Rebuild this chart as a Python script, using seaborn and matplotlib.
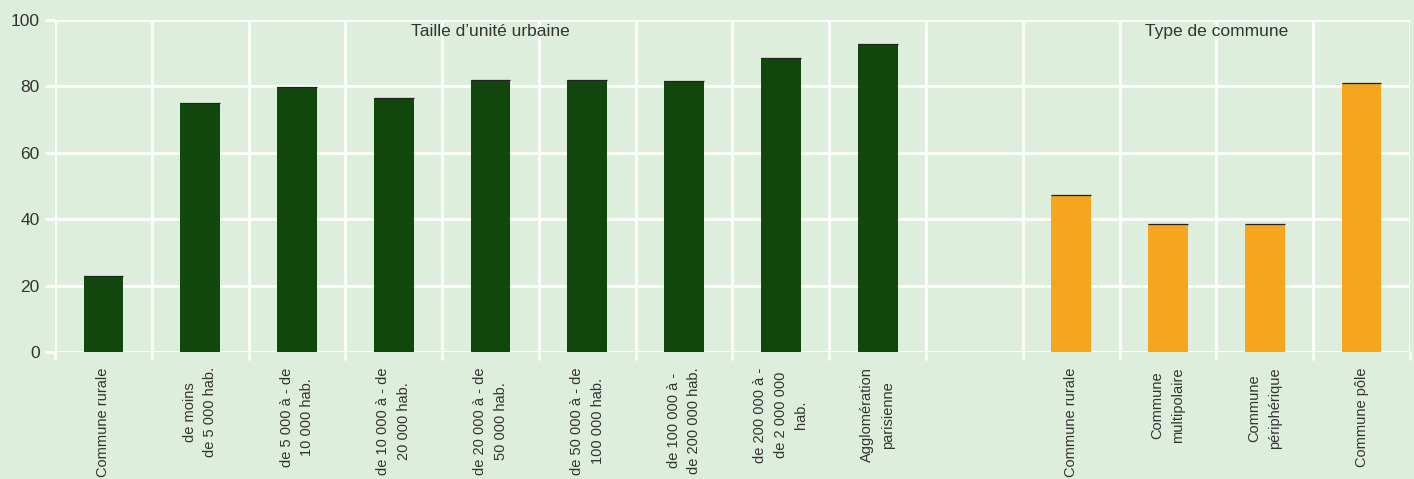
import pandas as pd
import seaborn as sns
import matplotlib.pyplot as plt
import numpy as np

# Données (en %)
taille_labels = ["Commune rurale", "de moins\nde 5 000 hab.", "de 5 000 à - de\n10 000 hab.",
                 "de 10 000 à - de\n20 000 hab.", "de 20 000 à - de\n50 000 hab.",
                 "de 50 000 à - de\n100 000 hab.", "de 100 000 à -\nde 200 000 hab.",
                 "de 200 000 à -\nde 2 000 000\nhab.", "Agglomération\nparisienne"]
taille_values = [22.9, 75.0, 79.8, 76.5, 81.9, 81.9, 81.6, 88.6, 92.8]

type_labels = ["Commune rurale", "Commune\nmultipolaire", "Commune\npériphérique", "Commune pôle"]
type_values = [47.3, 38.5, 38.5, 81.0]

group_titles = ["Taille d\u2019unité urbaine", "Type de commune"]

bg = "#deeedd"
green = "#11470d"
orange = "#f6a51e"
txt = "#333333"

keys_taille = ["t%d" % i for i in range(len(taille_values))]
keys_type = ["c%d" % i for i in range(len(type_values))]
order = keys_taille + ["gap"] + keys_type
tick_labels = taille_labels + [""] + type_labels

df = pd.DataFrame({
    "cle": keys_taille + keys_type,
    "valeur": taille_values + type_values,
    "groupe": [group_titles[0]] * len(taille_values) + [group_titles[1]] * len(type_values),
})

sns.set_style("white")
plt.rcParams["font.family"] = ["Liberation Sans", "DejaVu Sans"]

fig = plt.figure(figsize=(14.14, 4.79), dpi=100, facecolor=bg)
ax = fig.add_axes([55 / 1414, 1 - 352 / 479, 1355 / 1414, 332 / 479])
ax.set_facecolor(bg)

sns.barplot(data=df, x="cle", y="valeur", hue="groupe", order=order,
            palette=[green, orange], saturation=1, dodge=False, width=0.41,
            legend=False, edgecolor="none", ax=ax, zorder=3)

# fine ligne sombre au sommet des barres
for p in ax.patches:
    if p.get_height() > 0:
        ax.plot([p.get_x(), p.get_x() + p.get_width()], [p.get_height()] * 2,
                color="#222222", lw=0.9, zorder=4, solid_capstyle="butt")

n = len(order)
ax.set_xlim(-0.5, n - 0.5)
ax.set_ylim(0, 100)
ax.set_yticks([0, 20, 40, 60, 80, 100])
ax.set_xticks(range(n))
ax.set_xticklabels(tick_labels, rotation=90, va="top", ha="center",
                   multialignment="center", fontsize=10.5, color=txt, linespacing=1.6)
ax.set_xticks(np.arange(-0.5, n, 1), minor=True)
ax.tick_params(axis="x", which="major", bottom=True, length=0, pad=11)
ax.tick_params(axis="x", which="minor", bottom=True, length=6, width=2,
               color="white", direction="out")
ax.tick_params(axis="y", left=True, length=7, width=2, color="white", labelsize=12.5,
               labelcolor=txt, pad=4)
ax.grid(True, axis="y", color="white", lw=2, zorder=1)
ax.grid(True, axis="x", which="minor", color="white", lw=2, zorder=1)
ax.set_axisbelow(True)
for s in ax.spines.values():
    s.set_visible(False)
ax.set_xlabel("")
ax.set_ylabel("")

ax.text(4, 98.8, group_titles[0], ha="center", va="top", fontsize=12.5, color=txt)
ax.text(11.5, 98.8, group_titles[1], ha="center", va="top", fontsize=12.5, color=txt)

fig.savefig("out.png", dpi=100, facecolor=bg)
